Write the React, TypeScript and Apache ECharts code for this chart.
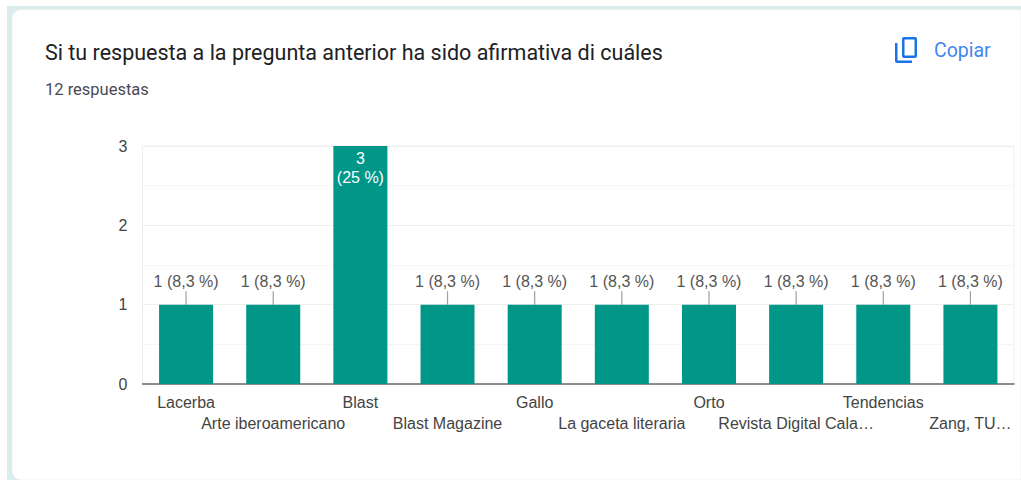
import React, { useEffect, useRef } from "react";
import * as echarts from "echarts";

const categories = ["Lacerba", "Arte iberoamericano", "Blast", "Blast Magazine", "Gallo", "La gaceta literaria", "Orto", "Revista Digital Cala…", "Tendencias", "Zang, TU…"];
const values = [1, 1, 3, 1, 1, 1, 1, 1, 1, 1];
const barLabels = ["1 (8,3 %)", "1 (8,3 %)", "3\n(25 %)", "1 (8,3 %)", "1 (8,3 %)", "1 (8,3 %)", "1 (8,3 %)", "1 (8,3 %)", "1 (8,3 %)", "1 (8,3 %)"];
const titleText = "Si tu respuesta a la pregunta anterior ha sido afirmativa di cuáles";
const subtitleText = "12 respuestas";
const copyText = "Copiar";
const yMax = 3;

const copyIcon = "M7 2a2 2 0 0 1 2-2h11a2 2 0 0 1 2 2v17a2 2 0 0 1-2 2H9a2 2 0 0 1-2-2zM9.5 2.5v16h10v-16zM0 6h2.5v17.5H17v2.5H2a2 2 0 0 1-2-2z";
echarts.graphic.registerShape("copyIcon", (echarts.graphic as any).extendPath(copyIcon, {}));

export default function App() {
  const ref = useRef<HTMLDivElement>(null);
  useEffect(() => {
    document.body.style.margin = "0";
    const chart = echarts.init(ref.current!, undefined, { renderer: "svg" });
    const font = "Arial, 'Liberation Sans', sans-serif";
    chart.setOption({
      animation: false,
      backgroundColor: "#ffffff",
      grid: { left: 142.5, right: 7, top: 146, bottom: 96, containLabel: false },
      xAxis: {
        type: "category",
        data: categories,
        axisTick: { show: false },
        axisLine: { show: true, lineStyle: { color: "#6b6b6b", width: 1.5 } },
        splitLine: { show: false },
        axisLabel: {
          interval: 0,
          color: "#444444",
          fontFamily: font,
          fontSize: 16,
          lineHeight: 21,
          margin: 8,
          hideOverlap: false,
          formatter: (v: string, i: number) => (i % 2 ? "\n" + v : v),
        },
      },
      yAxis: {
        type: "value",
        min: 0,
        max: yMax,
        interval: 1,
        axisLine: { show: false },
        axisTick: { show: false },
        axisLabel: { color: "#444444", fontFamily: font, fontSize: 16, margin: 15 },
        splitLine: { show: true, lineStyle: { color: "#eeeeee", width: 1 } },
        minorTick: { show: false, splitNumber: 2 },
        minorSplitLine: { show: true, lineStyle: { color: "#f5f5f5", width: 1 } },
      },
      series: [
        {
          type: "bar",
          barWidth: 54,
          itemStyle: { color: "#009688" },
          labelLine: { show: true, lineStyle: { color: "#a0a0a0", width: 1.2 } },
          labelLayout: (p: any) => (p.dataIndex === values.indexOf(yMax) ? {} : { dy: -12.5 }),
          data: values.map((v, i) => {
            const inside = v === yMax;
            return {
              value: v,
              label: {
                show: true,
                formatter: barLabels[i],
                position: inside ? "insideTop" : "top",
                distance: inside ? 3 : 1,
                color: inside ? "#ffffff" : "#555555",
                fontFamily: font,
                fontSize: 16,
                lineHeight: 19,
              },
              labelLine: { show: !inside },
            };
          }),
        },
      ],
      graphic: [
        { type: "rect", z: -10, silent: true, shape: { x: 7, y: 6, width: 1014, height: 474 }, style: { fill: "#d9eeec" } },
        { type: "rect", z: -9, silent: true, shape: { x: 12, y: 9.5, width: 1009, height: 470.5, r: [9, 0, 0, 9] }, style: { fill: "#ffffff", stroke: "#e6e6e6", lineWidth: 0.5 } },
        { type: "rect", z: -8, silent: true, shape: { x: 142.5, y: 146, width: 871.5, height: 238 }, style: { fill: "none", stroke: "#eeeeee", lineWidth: 1 } },
        { type: "text", x: 45, y: 41, style: { text: titleText, fill: "#202124", font: "400 21.5px Roboto, sans-serif" } },
        { type: "text", x: 45, y: 81, style: { text: subtitleText, fill: "#4a4a55", font: "400 16.5px Roboto, sans-serif" } },
        { type: "copyIcon", x: 895, y: 37, style: { fill: "#1a73e8" } },
        { type: "text", x: 934, y: 40, style: { text: copyText, fill: "#4285f4", font: "400 19.5px Roboto, sans-serif" } },
      ],
    });
    return () => chart.dispose();
  }, []);
  return <div ref={ref} style={{ width: 1021, height: 480 }} />;
}
